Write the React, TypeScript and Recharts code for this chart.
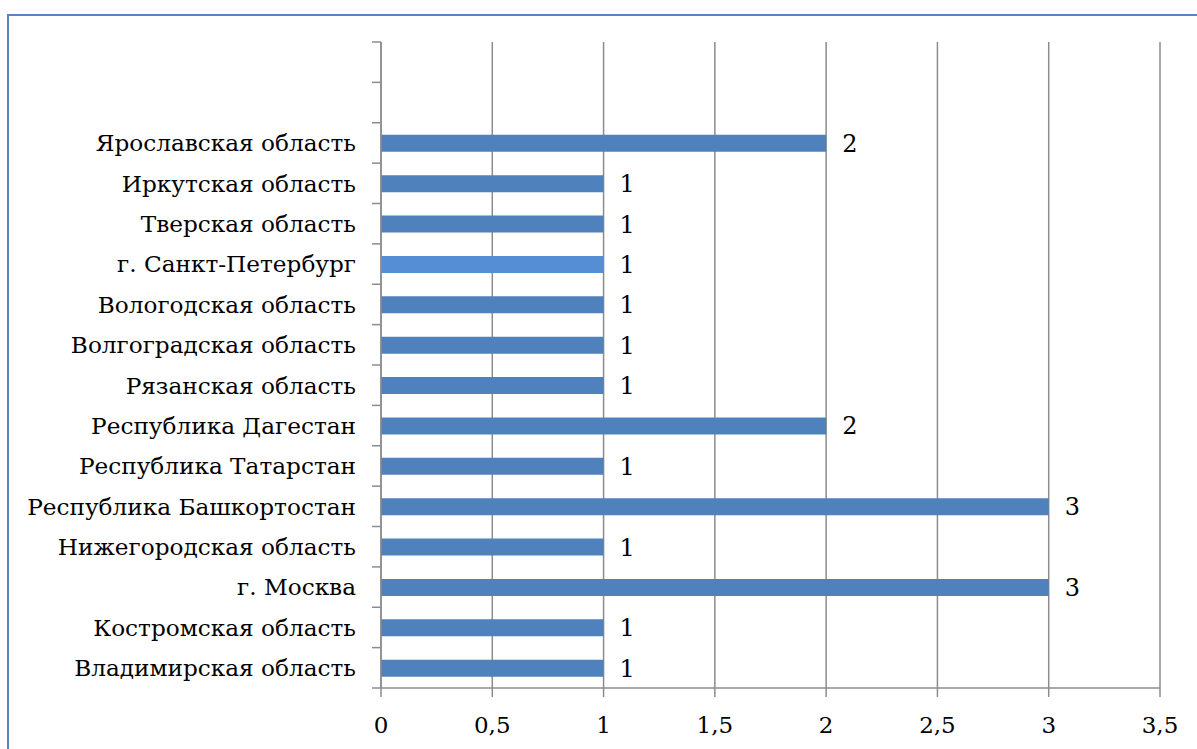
import { BarChart, Bar, XAxis, YAxis, CartesianGrid, LabelList, Cell } from "recharts";

// top to bottom, the first two rows are empty in the source chart
const regions = [
  "",
  " ",
  "Ярославская область",
  "Иркутская область",
  "Тверская область",
  "г. Санкт-Петербург",
  "Вологодская область",
  "Волгоградская область",
  "Рязанская область",
  "Республика Дагестан",
  "Республика Татарстан",
  "Республика Башкортостан",
  "Нижегородская область",
  "г. Москва",
  "Костромская область",
  "Владимирская область",
];

const counts: (number | null)[] = [null, null, 2, 1, 1, 1, 1, 1, 1, 2, 1, 3, 1, 3, 1, 1];

const xTicks = [0, 0.5, 1, 1.5, 2, 2.5, 3, 3.5];

const highlighted = "г. Санкт-Петербург";

const data = regions.map((name, i) => ({ name, value: counts[i] }));

const font = "DejaVu Serif";
const gray = "#8c8c8c";

// category label plus a tick mark on the band edge (Excel style)
function RegionTick(props: any) {
  const { x, y, payload, index } = props;
  const half = payload.offset ?? 0;
  const last = index === regions.length - 1;
  return (
    <g>
      <line x1={x - 9} x2={x} y1={y - half} y2={y - half} stroke={gray} strokeWidth={1.5} />
      {last && <line x1={x - 9} x2={x} y1={y + half} y2={y + half} stroke={gray} strokeWidth={1.5} />}
      <text x={x - 25} y={y} dy="0.36em" textAnchor="end" fill="#000" fontSize={23.2} style={{ fontFamily: font }}>
        {payload.value}
      </text>
    </g>
  );
}

function XTick(props: any) {
  const { x, y, payload } = props;
  return (
    <text x={x} y={y} dy="0.75em" textAnchor="middle" fill="#000" fontSize={23} style={{ fontFamily: font }}>
      {String(payload.value).replace(".", ",")}
    </text>
  );
}

export default function App() {
  return (
    <div style={{ position: "absolute", left: 0, top: 0, width: 1197, height: 749, background: "#fff", overflow: "hidden" }}>
      <div
        style={{
          position: "absolute",
          left: 7,
          top: 14,
          width: 1300,
          height: 900,
          borderTop: "2px solid #5b84bd",
          borderLeft: "2px solid #5b84bd",
        }}
      />
      <BarChart
        width={1197}
        height={749}
        data={data}
        layout="vertical"
        margin={{ top: 42, right: 37, left: 0, bottom: 0 }}
        style={{ position: "absolute", left: 0, top: 0 }}
      >
        <CartesianGrid horizontal={false} stroke={gray} strokeWidth={1.5} />
        <XAxis
          type="number"
          domain={[0, 3.5]}
          ticks={xTicks}
          interval={0}
          height={61}
          tickSize={9}
          tickMargin={19}
          axisLine={{ stroke: gray, strokeWidth: 1.5 }}
          tickLine={{ stroke: gray, strokeWidth: 1.5 }}
          tick={<XTick />}
        />
        <YAxis
          type="category"
          dataKey="name"
          width={381}
          interval={0}
          tickSize={0}
          tickMargin={0}
          axisLine={{ stroke: gray, strokeWidth: 1.5 }}
          tickLine={false}
          tick={<RegionTick />}
        />
        <Bar dataKey="value" barSize={17} fill="#4f81bd" isAnimationActive={false}>
          {data.map((d) => (
            <Cell key={d.name} fill={d.name === highlighted ? "#558ed5" : "#4f81bd"} />
          ))}
          <LabelList dataKey="value" position="right" offset={16} fill="#000" style={{ fontSize: 24, fontFamily: font }} />
        </Bar>
      </BarChart>
    </div>
  );
}
